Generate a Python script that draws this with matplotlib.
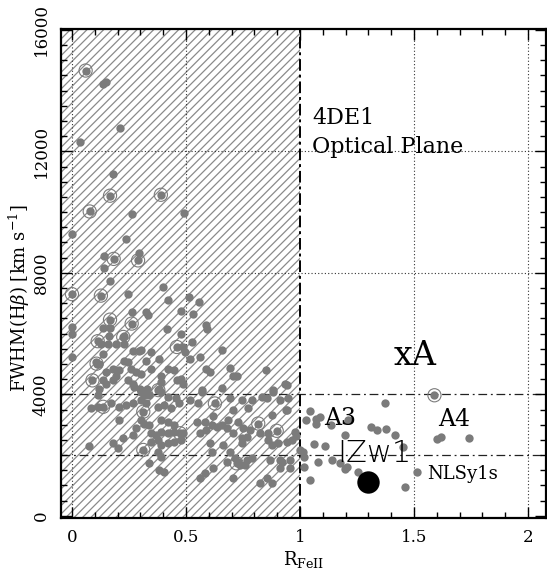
import matplotlib
matplotlib.use("Agg")
import matplotlib.pyplot as plt
from matplotlib.ticker import MultipleLocator

plt.rcParams['font.family'] = 'DejaVu Serif'
plt.rcParams['mathtext.fontset'] = 'dejavuserif'
plt.rcParams['hatch.linewidth'] = 0.9
plt.rcParams['hatch.color'] = '#8a8a8a'

# R_FeII and FWHM(Hbeta) of the sample
rfe = [0.135, 0.149, 0.21, 0.036, 0.18, 0.265, 0.49, 0.0, 0.235, 0.295, 0.142, 0.142,
       0.167, 0.40, 0.247, 0.42, 0.513, 0.557, 0.263, 0.325, 0.335, 0.478, 0.532, 0.588,
       0.593, 0.415, 0.0, 0.135, 0.167, 0.0, 0.23, 0.164, 0.48, 0.127, 0.156, 0.193,
       0.23, 0.525, 0.0, 0.303, 0.346, 0.266, 0.295, 0.488, 0.496, 0.657, 0.135, 0.383,
       0.23, 0.244, 0.325, 0.105, 0.12, 0.518, 0.561,
       0.149, 0.178, 0.207, 0.193, 0.259, 0.28, 0.303, 0.346, 0.42, 0.449, 0.39, 0.59,
       0.605, 0.693, 0.851, 0.708, 0.725,
       0.135, 0.178, 0.244, 0.266, 0.273, 0.30, 0.33, 0.39, 0.383, 0.463, 0.149, 0.12,
       0.48, 0.488, 0.569, 0.657, 0.883, 0.942,
       0.113, 0.303, 0.317, 0.339, 0.39, 0.42, 0.456, 0.083, 0.113, 0.171, 0.207, 0.237,
       0.266, 0.303, 0.325, 0.376, 0.405, 0.434, 0.47,
       0.207, 0.303, 0.317, 0.339, 0.39, 0.42, 0.449, 0.28, 0.266, 0.346, 0.368, 0.39,
       0.42, 0.449, 0.222, 0.178, 0.076, 0.2, 0.346, 0.376, 0.39, 0.42, 0.449, 0.376,
       0.39, 0.339, 0.383, 0.405,
       0.569, 0.518, 0.554, 0.693, 0.708, 0.744, 0.773, 0.788, 0.832, 0.912, 0.942, 0.876,
       0.62, 0.547, 0.583, 0.613, 0.635, 0.657, 0.678, 0.686, 0.73, 0.751, 0.78, 0.825,
       0.861, 0.978, 0.561, 0.59, 0.708, 0.766, 0.488, 0.48, 0.605, 0.664, 0.744, 0.744,
       0.861, 0.876, 0.905, 0.942, 0.964, 0.613, 0.693, 0.715, 0.73, 0.766, 0.788, 0.759,
       0.737, 0.678, 0.868, 0.912, 0.956, 0.912, 0.956, 0.583, 0.62, 0.561, 0.708, 0.825,
       0.854, 0.876,
       0.934, 0.949, 0.939, 0.982, 0.92, 0.88, 0.854,
       1.371, 1.043, 1.028, 1.071, 1.09, 1.071, 1.137, 1.21, 1.31, 1.339, 1.376, 1.196,
       1.415, 0.999, 1.013, 1.061, 1.108, 1.452, 1.02, 1.079, 1.142, 1.177, 1.018, 1.207,
       1.196, 1.254, 1.514, 1.043, 1.462, 1.602, 1.617, 1.743]
fwhm = [14210, 14290, 12770, 12300, 11240, 9930, 9980, 9290, 9100, 8640, 8550, 8170,
        7740, 7550, 7320, 7120, 7190, 7050, 6700, 6700, 6610, 6760, 6640, 6280,
        6150, 6160, 6230, 6190, 6190, 5990, 5930, 5910, 6000, 5660, 5660, 5660,
        5660, 5710, 5230, 5470, 5390, 5440, 5440, 5550, 5410, 5460, 5330, 5170,
        5110, 5060, 5090, 5060, 5000, 5170, 5220,
        4730, 4840, 4790, 4620, 4840, 4730, 4670, 4840, 4840, 4790, 4620, 4820,
        4730, 4860, 4790, 4590, 4600,
        4460, 4460, 4460, 4340, 4240, 4180, 4180, 4400, 4180, 4460, 4340, 4180,
        4510, 4340, 4130, 4200, 4130, 4310,
        3970, 4080, 3970, 3970, 4080, 3920, 3870, 3540, 3590, 3700, 3590, 3650,
        3700, 3810, 3700, 3590, 3650, 3540, 3700,
        3150, 3150, 3040, 2990, 3150, 3100, 2990, 2880, 2660, 2720, 2660, 2770,
        2720, 2770, 2550, 2390, 2300, 2220, 2440, 2500, 2330, 2410, 2440, 2110,
        1950, 1730, 1510, 1450,
        4080, 3810, 3700, 3870, 3480, 3810, 3540, 3810, 3920, 3810, 3480, 3320,
        3280, 3100, 3100, 2990, 2930, 2990, 2880, 3150, 3100, 2880, 2820, 2720,
        2720, 2770, 2720, 2820, 2720, 2600, 2720, 2500, 2390, 2330, 2550, 2390,
        2500, 2330, 2390, 2440, 2500, 2110, 2110, 1900, 1780, 1840, 1900, 1670,
        1670, 1780, 1840, 1840, 1840, 1570, 1570, 1420, 1570, 1240, 1240, 1070,
        1240, 1070,
        4330, 3870, 3480, 2640, 1780, 4080, 3870,
        3720, 3460, 3150, 3180, 3240, 3040, 2990, 3150, 2910, 2820, 2850, 2660,
        2660, 2170, 2110, 2350, 2300, 2260, 1950, 1780, 1840, 1750, 1600, 1600,
        1530, 1450, 1450, 1180, 960, 2520, 2580, 2550]

# sources marked with an extra ring
rfe_ring = [0.06, 0.167, 0.39, 0.078, 0.183, 0.29, 0.0, 0.127, 0.167, 0.262, 0.113,
            0.108, 0.225, 0.46, 0.09, 0.137, 0.313, 0.313, 0.474, 0.627, 0.817, 0.898,
            0.722, 0.379, 1.59]
fwhm_ring = [14660, 10540, 10570, 10020, 8460, 8410, 7300, 7250, 6460, 6330, 5750,
             5010, 5890, 5560, 4460, 3590, 3430, 2170, 2720, 3700, 3040, 2800,
             1730, 4140, 3970]

# I Zw 1
izw1_r = [1.30]
izw1_fwhm = [1130]

gray = '#7b7b7b'

fig = plt.figure(figsize=(5.47, 5.73), dpi=100)
ax = fig.add_axes([0.1115, 0.096, 0.887, 0.853])
xmin, xmax = -0.048, 2.08
ymin, ymax = -70, 16020
ax.set_xlim(xmin, xmax)
ax.set_ylim(ymin, ymax)

# hatched region R_FeII < 1
ax.axvspan(xmin, 1.0, facecolor='none', edgecolor='#8a8a8a', hatch='////',
           linewidth=0, zorder=0)

# grid lines
for xv in [0.0, 0.5, 1.5, 2.0]:
    ax.axvline(xv, color='#333333', ls=(0, (1, 2)), lw=0.8, zorder=1)
for yv in [8000, 12000]:
    ax.axhline(yv, color='#333333', ls=(0, (1, 2)), lw=0.8, zorder=1)
for yv in [2000, 4000]:
    ax.axhline(yv, color='#222222', ls=(0, (7, 3, 1.5, 3)), lw=0.9, zorder=1)
ax.axvline(1.0, color='black', ls=(0, (6, 2, 1.5, 2)), lw=1.4, zorder=1)

ax.scatter(rfe, fwhm, s=36, color=gray, linewidths=0, zorder=3)
ax.scatter(rfe_ring, fwhm_ring, s=36, color=gray, linewidths=0, zorder=3)
ax.scatter(rfe_ring, fwhm_ring, s=90, facecolors='none', edgecolors=gray,
           linewidths=0.8, zorder=3)
ax.scatter(izw1_r, izw1_fwhm, s=260, color='black', linewidths=0, zorder=4)

# labels in the plane
ax.text(1.055, 12900, '4DE1', fontsize=16)
ax.text(1.055, 11930, 'Optical Plane', fontsize=16)
ax.text(1.41, 4960, 'xA', fontsize=24)
ax.text(1.105, 2990, 'A3', fontsize=17)
ax.text(1.605, 2970, 'A4', fontsize=17)
ax.text(1.165, 1780, 'IZw1', fontsize=22, family='DejaVu Sans', fontweight='light')
ax.text(1.556, 1200, 'NLSy1s', fontsize=13)

ax.set_xlabel(r'R$_{\rm FeII}$', fontsize=13, labelpad=2)
ax.set_ylabel(r'FWHM(H$\beta$) [km s$^{-1}$]', fontsize=13)
ax.yaxis.set_label_coords(-0.06, 0.45)

ax.set_xticks([0, 0.5, 1, 1.5, 2])
ax.set_xticklabels(['0', '0.5', '1', '1.5', '2'])
ax.xaxis.set_minor_locator(MultipleLocator(0.1))
ax.yaxis.set_major_locator(MultipleLocator(4000))
ax.yaxis.set_minor_locator(MultipleLocator(500))
ax.tick_params(which='both', direction='in', top=True, right=True, width=1.0)
ax.tick_params(which='major', length=8, labelsize=12, pad=8)
ax.tick_params(which='minor', length=4)
for lbl in ax.get_yticklabels():
    lbl.set_rotation(90)
    lbl.set_va('center')
for sp in ax.spines.values():
    sp.set_linewidth(1.6)

fig.savefig('out.png', dpi=100)
